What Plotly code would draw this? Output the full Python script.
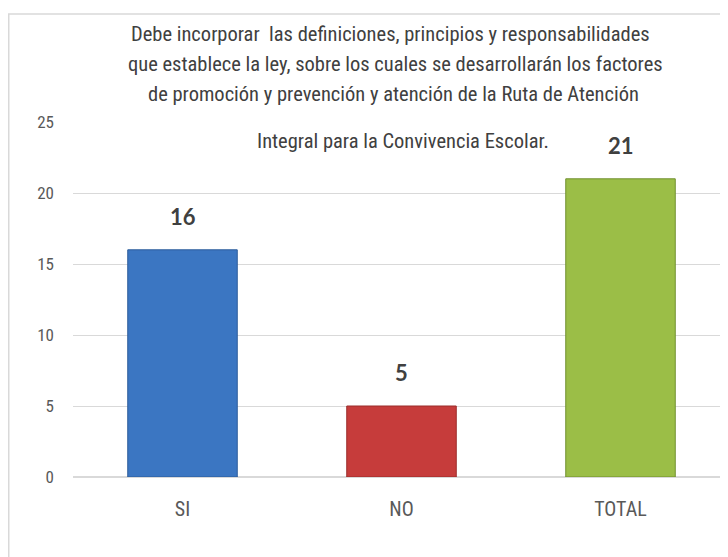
import plotly.graph_objects as go

categories = ["SI", "NO", "TOTAL"]
values = [16, 5, 21]
bar_colors = ["#3B76C2", "#C63C3B", "#9BBE47"]
edge_colors = ["#2C5C9A", "#9A2C2B", "#71902F"]
title_lines = [
    "Debe incorporar  las definiciones, principios y responsabilidades",
    "que establece la ley, sobre los cuales se desarrollarán los factores",
    "de promoción y prevención y atención de la Ruta de Atención",
    "Integral para la Convivencia Escolar.",
]
y_ticks = [0, 5, 10, 15, 20, 25]

OFF = 8  # page body margin
W, H = 728, 557
L, R, T, B = 65, 6, 114, 88
pw, ph = W - L - R, H - T - B

def px_x(x):
    return (x - OFF - L) / pw

def px_y(y):
    return (H - B - (y - OFF)) / ph

narrow = "Liberation Sans Narrow, Arial Narrow, Roboto Condensed, DejaVu Sans Condensed, sans-serif"

fig = go.Figure(go.Bar(
    x=categories, y=values, width=0.5,
    marker=dict(color=bar_colors, line=dict(color=edge_colors, width=1)),
    hoverinfo="skip",
))

annotations = []
for c, v in zip(categories, values):
    annotations.append(dict(x=c, y=v, xref="x", yref="y", text=f"<b>{v}</b>",
                            showarrow=False, yanchor="bottom", yshift=18,
                            font=dict(family="Lato, Open Sans, sans-serif", size=22, color="#404040")))

title_pos = [(390, 34), (395, 64), (393, 94), (403, 141)]
for txt, (cx, cy) in zip(title_lines, title_pos):
    annotations.append(dict(x=px_x(cx), y=px_y(cy), xref="paper", yref="paper", text=txt,
                            showarrow=False, xanchor="center", yanchor="middle",
                            font=dict(family=narrow, size=20.5, color="#404040")))

fig.update_layout(
    width=W, height=H,
    margin=dict(l=L, r=R, t=T, b=B),
    paper_bgcolor="white", plot_bgcolor="white",
    showlegend=False,
    annotations=annotations,
    shapes=[dict(type="rect", xref="paper", yref="paper",
                 x0=px_x(8.75), x1=px_x(760), y0=px_y(600), y1=px_y(14),
                 line=dict(color="#D9D9D9", width=1.5), layer="below")],
    xaxis=dict(range=[-0.5, 2.5], showgrid=False, showline=False, ticks="",
               tickfont=dict(family=narrow, size=20, color="#595959"), ticklabelstandoff=18),
    yaxis=dict(range=[0, 25], tickvals=y_ticks, showgrid=True, gridcolor="#D9D9D9", gridwidth=1,
               zeroline=True, zerolinecolor="#D9D9D9", showline=False, ticks="",
               tickfont=dict(family=narrow, size=17, color="#595959"), ticklabelstandoff=18),
)

fig.write_html("out.html")
